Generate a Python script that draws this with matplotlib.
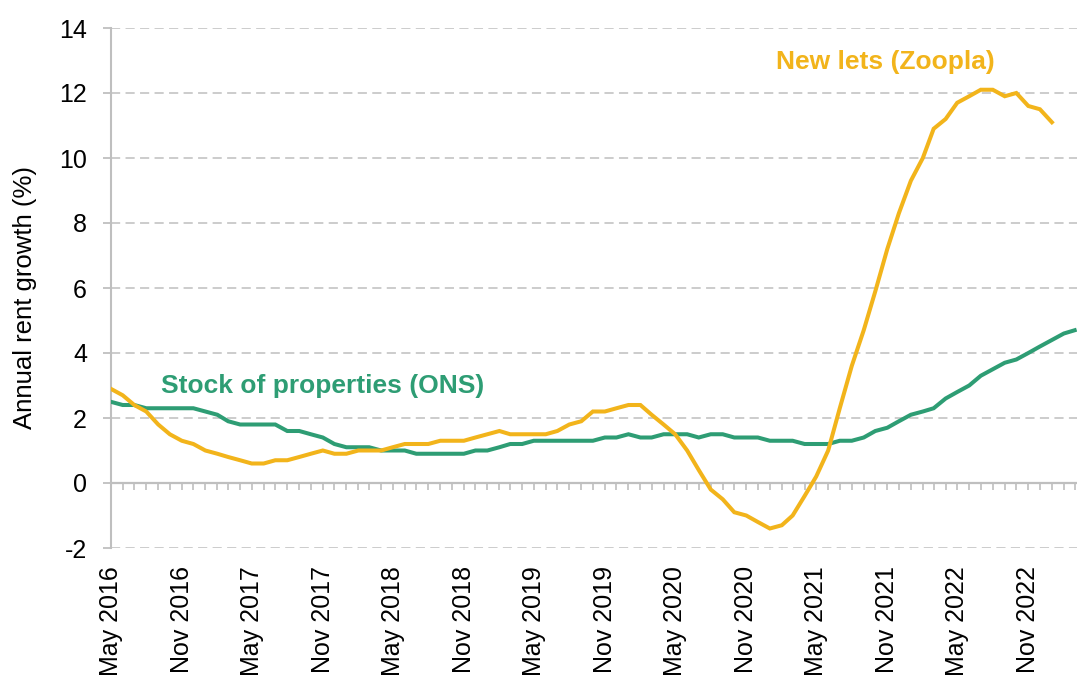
import matplotlib
matplotlib.use("Agg")
import matplotlib.pyplot as plt
import matplotlib.dates as mdates
import matplotlib.ticker as mticker
import pandas as pd

# annual rent growth (%), monthly from May 2016
ons_stock = [2.5, 2.4, 2.4, 2.3, 2.3, 2.3, 2.3, 2.3, 2.2, 2.1, 1.9, 1.8,
             1.8, 1.8, 1.8, 1.6, 1.6, 1.5, 1.4, 1.2, 1.1, 1.1, 1.1, 1.0,
             1.0, 1.0, 0.9, 0.9, 0.9, 0.9, 0.9, 1.0, 1.0, 1.1, 1.2, 1.2,
             1.3, 1.3, 1.3, 1.3, 1.3, 1.3, 1.4, 1.4, 1.5, 1.4, 1.4, 1.5,
             1.5, 1.5, 1.4, 1.5, 1.5, 1.4, 1.4, 1.4, 1.3, 1.3, 1.3, 1.2,
             1.2, 1.2, 1.3, 1.3, 1.4, 1.6, 1.7, 1.9, 2.1, 2.2, 2.3, 2.6,
             2.8, 3.0, 3.3, 3.5, 3.7, 3.8, 4.0, 4.2, 4.4, 4.6, 4.7]
zoopla_new_lets = [2.9, 2.7, 2.4, 2.2, 1.8, 1.5, 1.3, 1.2, 1.0, 0.9, 0.8, 0.7,
                   0.6, 0.6, 0.7, 0.7, 0.8, 0.9, 1.0, 0.9, 0.9, 1.0, 1.0, 1.0,
                   1.1, 1.2, 1.2, 1.2, 1.3, 1.3, 1.3, 1.4, 1.5, 1.6, 1.5, 1.5,
                   1.5, 1.5, 1.6, 1.8, 1.9, 2.2, 2.2, 2.3, 2.4, 2.4, 2.1, 1.8,
                   1.5, 1.0, 0.4, -0.2, -0.5, -0.9, -1.0, -1.2, -1.4, -1.3, -1.0, -0.4,
                   0.2, 1.0, 2.3, 3.6, 4.7, 5.9, 7.2, 8.3, 9.3, 10.0, 10.9, 11.2,
                   11.7, 11.9, 12.1, 12.1, 11.9, 12.0, 11.6, 11.5, 11.1]

ons_dates = pd.date_range("2016-05-01", periods=len(ons_stock), freq="MS")
zoopla_dates = pd.date_range("2016-05-01", periods=len(zoopla_new_lets), freq="MS")

green = "#2E9D74"
yellow = "#F2B41B"
grey = "#BFBFBF"

plt.rcParams["font.family"] = ["Liberation Sans", "DejaVu Sans"]
plt.rcParams["axes.unicode_minus"] = False

fig = plt.figure(figsize=(10.77, 6.81), dpi=100)
ax = fig.add_axes([110.7 / 1077, 1 - 548 / 681, (1077 - 110.7) / 1077, 520 / 681])

ax.plot(ons_dates, ons_stock, color=green, lw=2.9, zorder=3, solid_joinstyle="miter")
ax.plot(zoopla_dates, zoopla_new_lets, color=yellow, lw=2.9, zorder=3, solid_joinstyle="miter")

ax.set_ylim(-2, 14)
ax.set_xlim(pd.Timestamp("2016-05-01"), pd.Timestamp("2023-03-07"))

# y axis
ax.yaxis.set_major_locator(mticker.MultipleLocator(2))
ax.tick_params(axis="y", length=6, width=1.3, color=grey, pad=11, labelsize=18)
ax.grid(axis="y", color=grey, lw=1.1, dashes=(6, 3.5))
for s in ["top", "right", "bottom"]:
    ax.spines[s].set_visible(False)
ax.spines["left"].set_color(grey)
ax.spines["left"].set_linewidth(1.5)

# x labels every six months, below the plot
ax.xaxis.set_major_locator(mdates.MonthLocator(bymonth=[5, 11]))
ax.xaxis.set_major_formatter(mdates.DateFormatter("%b %Y"))
ax.tick_params(axis="x", length=0, pad=13, labelsize=18, labelrotation=90)

# zero line with monthly tick marks
ax.axhline(0, color=grey, lw=1.6, zorder=2)
sec = ax.secondary_xaxis(0.125)
sec.xaxis.set_major_locator(mdates.MonthLocator())
sec.xaxis.set_major_formatter(mticker.NullFormatter())
sec.tick_params(axis="x", direction="out", length=5, width=1.2, color=grey)
sec.spines["bottom"].set_visible(False)

fig.text(25 / 1077, 1 - 297 / 681, "Annual rent growth (%)", rotation=90,
         ha="center", va="center", fontsize=18.5)

ax.text(pd.Timestamp("2021-10-28"), 12.95, "New lets (Zoopla)", color=yellow,
        fontsize=19, fontweight="bold", ha="center", va="center")
ax.text(pd.Timestamp("2017-11-01"), 3.0, "Stock of properties (ONS)", color=green,
        fontsize=19, fontweight="bold", ha="center", va="center")

fig.savefig("out.png", dpi=100)
